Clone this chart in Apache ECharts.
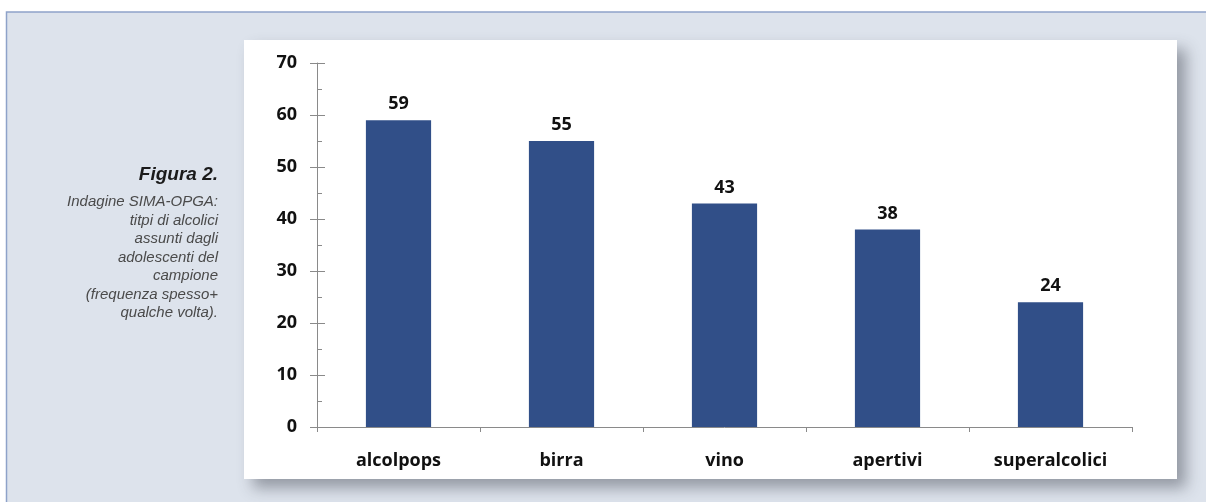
<!DOCTYPE html>
<html>
<head>
<meta charset="utf-8">
<script src="https://cdn.jsdelivr.net/npm/echarts@6/dist/echarts.min.js"></script>
<style>
  html, body { margin: 0; padding: 0; background: #ffffff; }
  #chart { width: 1206px; height: 502px; }
</style>
</head>
<body>
<div id="chart"></div>
<script>
// Tipi di alcolici assunti (percentuale, frequenza spesso + qualche volta)
const categories = ['alcolpops', 'birra', 'vino', 'apertivi', 'superalcolici'];
const values = [59, 55, 43, 38, 24];
const yTicks = [0, 10, 20, 30, 40, 50, 60, 70];

const captionTitle = 'Figura 2.';
const captionLines = [
  'Indagine SIMA-OPGA:',
  'titpi di alcolici',
  'assunti dagli',
  'adolescenti del',
  'campione',
  '(frequenza spesso+',
  'qualche volta).'
];

const chart = echarts.init(document.getElementById('chart'), null, { renderer: 'canvas' });

const labelFont = { fontFamily: 'Open Sans', fontWeight: 'bold', color: '#111' };
const axisColor = '#8a8a8a';
const captionRight = 1206 - 218;

const captionGraphics = [
  {
    type: 'text', right: captionRight, top: 165, z: 10,
    style: { text: captionTitle, font: 'italic bold 19px "Liberation Sans"', fill: '#1a1a1a', textAlign: 'right' }
  },
  {
    type: 'text', right: captionRight, top: 193, z: 10,
    style: {
      text: captionLines.join('\n'),
      font: 'italic 15px "Liberation Sans"',
      lineHeight: 18.5,
      fill: '#4a4a4a',
      textAlign: 'right'
    }
  }
];

chart.setOption({
  animation: false,
  backgroundColor: '#ffffff',
  graphic: [
    // page band
    {
      type: 'rect', z: -20, silent: true,
      shape: { x: 6.5, y: 12, width: 1210, height: 500 },
      style: { fill: '#dde3ec', stroke: '#8ea2c9', lineWidth: 1.5 }
    },
    // white chart panel with drop shadow
    {
      type: 'rect', z: -10, silent: true,
      shape: { x: 244, y: 40, width: 933, height: 439 },
      style: {
        fill: '#ffffff',
        shadowBlur: 14,
        shadowOffsetX: 9,
        shadowOffsetY: 9,
        shadowColor: 'rgba(60,65,75,0.45)'
      }
    },
    ...captionGraphics
  ],
  grid: { left: 317, right: 74, top: 63, bottom: 75 },
  xAxis: {
    type: 'category',
    data: categories,
    axisLine: { lineStyle: { color: axisColor, width: 1 } },
    axisTick: { show: true, length: 5, lineStyle: { color: axisColor } },
    axisLabel: { ...labelFont, fontSize: 18, margin: 25 }
  },
  yAxis: [
    {
      type: 'value', min: 0, max: 70, interval: 10,
      axisLine: { show: true, lineStyle: { color: axisColor, width: 1 } },
      axisTick: { show: true, length: 7, lineStyle: { color: axisColor } },
      axisLabel: {
        ...labelFont, fontSize: 18, margin: 20,
        formatter: v => (yTicks.includes(v) ? String(v) : '')
      },
      splitLine: { show: false }
    },
    {
      type: 'value', min: 0, max: 70, interval: 10, position: 'left', offset: 0,
      axisLine: { show: false },
      axisTick: { show: true, inside: true, length: 8, lineStyle: { color: axisColor } },
      minorTick: { show: true, splitNumber: 2, length: 5, lineStyle: { color: axisColor } },
      axisLabel: { show: false },
      splitLine: { show: false }
    }
  ],
  series: [
    {
      type: 'bar',
      data: values,
      barWidth: '40%',
      itemStyle: { color: '#314f88' },
      label: {
        show: true, position: 'top', distance: 7,
        ...labelFont, fontSize: 18
      }
    }
  ]
});
</script>
</body>
</html>
